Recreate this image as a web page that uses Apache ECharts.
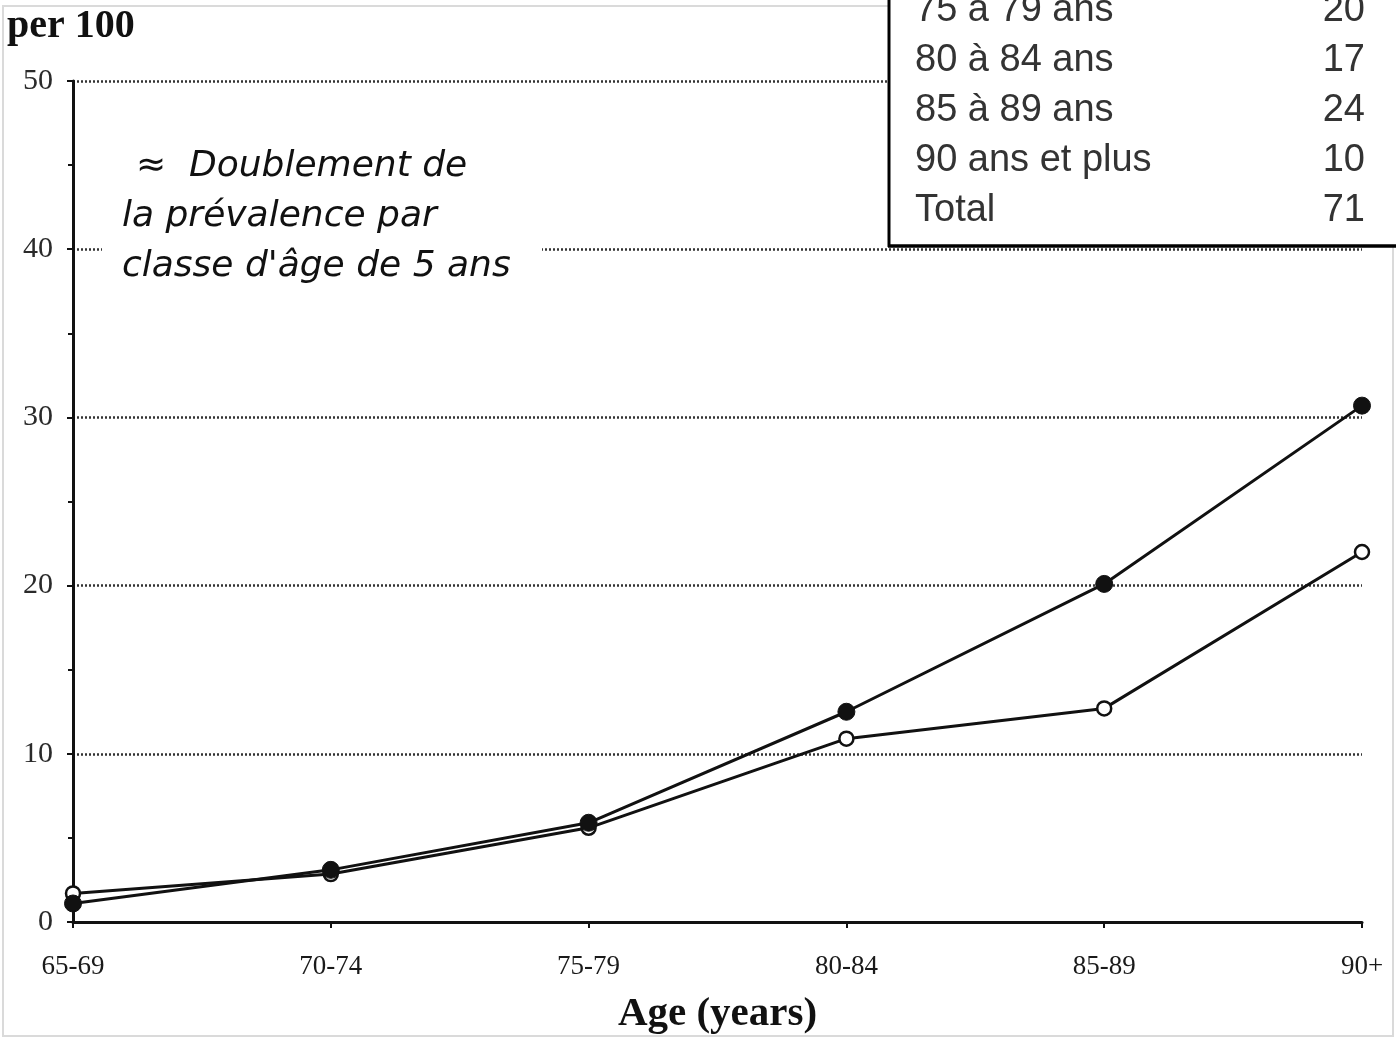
<!DOCTYPE html>
<html>
<head>
<meta charset="utf-8">
<script src="https://cdn.jsdelivr.net/npm/echarts@6.0.0/dist/echarts.min.js"></script>
<style>
  html, body { margin: 0; padding: 0; background: #fff; }
  #chart { width: 1396px; height: 1038px; }
</style>
</head>
<body>
<div id="chart"></div>
<script>
// Age groups on the x axis
const ageGroups = ['65-69', '70-74', '75-79', '80-84', '85-89', '90+'];
// Prevalence per 100, filled-marker series
const prevalenceFilled = [1.1, 3.1, 5.9, 12.5, 20.1, 30.7];
// Prevalence per 100, open-marker series
const prevalenceOpen = [1.7, 2.85, 5.6, 10.9, 12.7, 22.0];
// Value axis range and step
const yMin = 0, yMax = 50, yStep = 10;
// Case counts table (top right)
const tableLabels = ['75 à 79 ans', '80 à 84 ans', '85 à 89 ans', '90 ans et plus', 'Total'];
const tableValues = ['20', '17', '24', '10', '71'];
// Annotation lines
const noteLines = ['≈  Doublement de', 'la prévalence par', "classe d'âge de 5 ans"];

const serif = '"Liberation Serif", "Times New Roman", serif';
const ink = '#111';

const chart = echarts.init(document.getElementById('chart'), null, { renderer: 'canvas' });

// Table rows: label on the left, count right-aligned
const tableElements = [
  { type: 'rect', shape: { x: 888, y: -10, width: 520, height: 256 }, style: { fill: '#fff' }, z: 100, silent: true },
  { type: 'line', shape: { x1: 889, y1: 0, x2: 889, y2: 247 }, style: { stroke: '#000', lineWidth: 3 }, z: 101, silent: true },
  { type: 'line', shape: { x1: 888, y1: 246, x2: 1396, y2: 246 }, style: { stroke: '#000', lineWidth: 3.5 }, z: 101, silent: true }
];
tableLabels.forEach((label, i) => {
  const top = -8 + i * 50;
  tableElements.push({
    type: 'text', z: 102, silent: true,
    style: { text: label, x: 915, y: top, fill: '#333', fontSize: 38, fontFamily: '"Liberation Sans", Arial, sans-serif', verticalAlign: 'top', align: 'left' }
  });
  tableElements.push({
    type: 'text', z: 102, silent: true,
    style: { text: tableValues[i], x: 1365, y: top, fill: '#333', fontSize: 38, fontFamily: '"Liberation Sans", Arial, sans-serif', verticalAlign: 'top', align: 'right' }
  });
});

// Annotation block with a white backing
const noteElements = [
  { type: 'rect', shape: { x: 102, y: 138, width: 440, height: 158 }, style: { fill: '#fff' }, z: 50, silent: true }
];
const noteX = [136, 122, 122];
noteLines.forEach((line, i) => {
  noteElements.push({
    type: 'text', z: 51, silent: true,
    style: { text: line, x: noteX[i], y: 149 + i * 50, fill: ink, fontSize: 36, fontStyle: 'italic', fontFamily: '"DejaVu Sans", sans-serif', verticalAlign: 'top', align: 'left' }
  });
});

const option = {
  animation: false,
  backgroundColor: '#fff',
  title: {
    text: 'per 100',
    left: 7,
    top: 7,
    padding: 0,
    textStyle: { fontFamily: serif, fontWeight: 'bold', fontSize: 40, color: ink }
  },
  grid: { left: 73, right: 34, top: 81, bottom: 116, containLabel: false, outerBoundsMode: 'none' },
  xAxis: {
    type: 'category',
    data: ageGroups,
    boundaryGap: false,
    axisLine: { lineStyle: { color: ink, width: 3 } },
    axisTick: { show: true, length: 6, alignWithLabel: true, lineStyle: { color: ink, width: 2 } },
    axisLabel: { margin: 31, fontFamily: serif, fontSize: 27, color: '#1a1a1a' },
    splitLine: { show: false },
    name: 'Age (years)',
    nameLocation: 'middle',
    nameGap: 72,
    nameTextStyle: { fontFamily: serif, fontWeight: 'bold', fontSize: 41, color: ink }
  },
  yAxis: {
    type: 'value',
    min: yMin,
    max: yMax,
    interval: yStep,
    axisLine: { show: true, lineStyle: { color: ink, width: 3 } },
    axisTick: { show: true, length: 6, lineStyle: { color: ink, width: 2 } },
    minorTick: { show: true, splitNumber: 2, length: 5, lineStyle: { color: ink, width: 2 } },
    axisLabel: { margin: 20, fontFamily: serif, fontSize: 30, color: '#2a2a2a' },
    splitLine: { show: true, lineStyle: { color: '#333', width: 2.5, type: [2, 2] } }
  },
  series: [
    {
      name: 'open',
      type: 'line',
      data: prevalenceOpen,
      symbol: 'circle',
      symbolSize: 14,
      lineStyle: { color: ink, width: 3 },
      itemStyle: { color: '#fff', borderColor: ink, borderWidth: 2.5 },
      emphasis: { disabled: true },
      z: 3
    },
    {
      name: 'filled',
      type: 'line',
      data: prevalenceFilled,
      symbol: 'circle',
      symbolSize: 17,
      lineStyle: { color: ink, width: 3 },
      itemStyle: { color: ink, borderColor: ink, borderWidth: 1 },
      emphasis: { disabled: true },
      z: 4
    }
  ],
  graphic: [
    { type: 'rect', shape: { x: 3, y: 6, width: 1390, height: 1030 }, style: { fill: 'none', stroke: '#dadada', lineWidth: 2 }, z: 0, silent: true },
    ...noteElements,
    ...tableElements
  ]
};

chart.setOption(option);
</script>
</body>
</html>
